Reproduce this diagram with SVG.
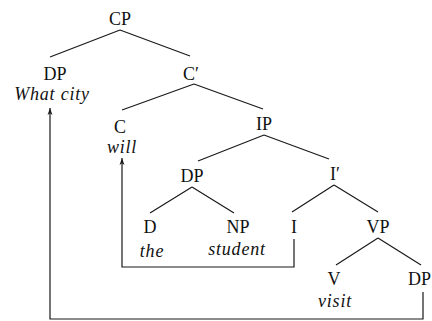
<svg xmlns="http://www.w3.org/2000/svg" width="432" height="321" viewBox="0 0 432 321" font-family="'Liberation Serif', 'DejaVu Serif', serif" font-size="18">
<style>
text{fill:#111;text-anchor:middle}
.w{font-style:italic;letter-spacing:0.8px}
.e{fill:none;stroke:#1a1a1a;stroke-width:1.2}
.m{fill:none;stroke:#1a1a1a;stroke-width:1.2}
</style>
<defs>
<marker id="ah" viewBox="0 0 10 10" refX="10" refY="5" markerWidth="9" markerHeight="7" markerUnits="userSpaceOnUse" orient="auto">
<path d="M0,1.5 L10,5 L0,8.5 L2.5,5 Z" fill="#1a1a1a"/>
</marker>
</defs>
<rect width="432" height="321" fill="#fff"/>
<g id="edges">
<path class="e" d="M120,30 L50,57 M120,30 L190,56"/>
<path class="e" d="M194,84 L122,110 M194,84 L263,109"/>
<path class="e" d="M264,135 L198,161 M264,135 L329,159"/>
<path class="e" d="M192,187 L150,213 M192,187 L234,213"/>
<path class="e" d="M334,185 L292,212 M334,185 L378,212"/>
<path class="e" d="M378,238 L336,265 M378,238 L421,265"/>
<path class="m" d="M294,239 V267 H122 V158" marker-end="url(#ah)"/>
<path class="m" d="M423,292 V319 H50 V108" marker-end="url(#ah)"/>
</g>
<g id="CP"><text x="120" y="25">CP</text></g>
<g id="DP-wh"><text x="55" y="80">DP</text><text class="w" x="52" y="100">What city</text></g>
<g id="Cbar"><text x="191" y="80">C′</text></g>
<g id="C"><text x="120" y="133">C</text><text class="w" x="122" y="153">will</text></g>
<g id="IP"><text x="264" y="130">IP</text></g>
<g id="DP-subj"><text x="192" y="182">DP</text></g>
<g id="Ibar"><text x="335" y="180">I′</text></g>
<g id="D"><text x="150" y="233">D</text><text class="w" x="152" y="257">the</text></g>
<g id="NP"><text x="238" y="233">NP</text><text class="w" x="237" y="255">student</text></g>
<g id="I"><text x="294" y="233">I</text></g>
<g id="VP"><text x="378" y="233">VP</text></g>
<g id="V"><text x="334" y="285">V</text><text class="w" x="335" y="307">visit</text></g>
<g id="DP-obj"><text x="431" y="285" style="text-anchor:end">DP</text></g>
</svg>
